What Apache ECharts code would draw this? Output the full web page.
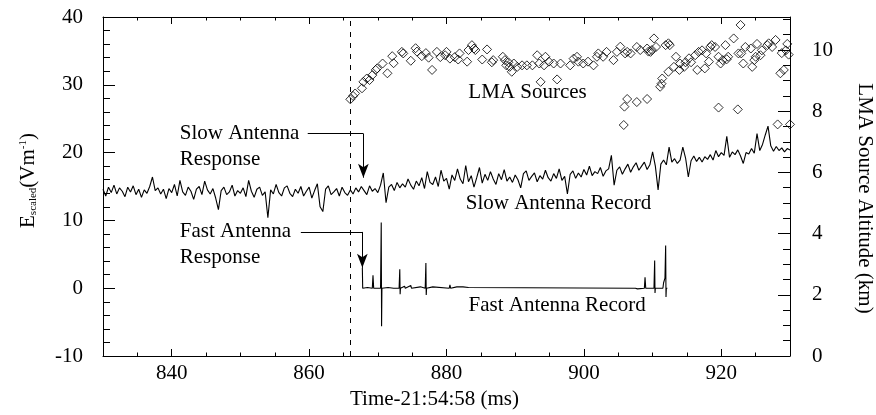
<!DOCTYPE html>
<html>
<head>
<meta charset="utf-8">
<script src="https://cdn.jsdelivr.net/npm/echarts@6/dist/echarts.min.js"></script>
<style>
  html, body { margin: 0; background: #fff; }
  #chart { width: 876px; height: 415px; }
</style>
</head>
<body>
<div id="chart"></div>
<script>
// slow antenna record, sampled every 0.4 ms from 830 ms
const slowStart = 830;
const slowStep = 0.4;
const slowValues = [
  14.6, 13.6, 14.9, 14.1, 15.2, 13.9, 14.8, 14.3, 13.5, 14.9,
  14.2, 15.1, 13.8, 14.6, 13.4, 14.5, 14.0, 15.0, 16.4, 14.4,
  14.8, 13.9, 14.6, 13.2, 14.7, 14.1, 15.3, 13.6, 15.9, 14.2,
  13.7, 14.9, 14.3, 13.1, 14.6, 15.0, 13.8, 15.8, 14.5, 13.9,
  14.7, 13.3, 11.6, 14.4, 14.9, 13.8, 14.2, 15.2, 13.6, 14.4,
  14.0, 14.8, 13.5, 15.9, 14.3, 13.4, 14.6, 14.9, 13.7, 14.2,
  10.4, 14.5, 13.9, 15.3, 14.1, 13.6, 14.8, 15.1, 14.0, 13.5,
  14.6, 14.0, 15.0, 13.6, 14.3, 14.9, 13.3, 14.4, 15.4, 12.0,
  11.3, 14.6, 15.1, 13.8, 14.2, 14.7, 13.6, 14.9, 14.1, 13.7,
  14.5, 13.9, 14.8, 14.2, 15.0, 14.4, 13.8, 15.1, 14.3, 14.7,
  14.1, 15.2, 17.0, 12.6, 14.9, 15.3, 14.4, 15.6, 14.8, 15.4,
  14.9, 16.1, 15.2, 14.6, 15.8, 15.1, 16.3, 14.7, 17.2, 15.6,
  15.3, 16.4, 15.0, 17.4, 15.8, 16.2, 14.6, 16.7, 15.9, 17.6,
  16.1, 15.4, 18.1, 15.7, 16.6, 14.9, 16.3, 17.8, 15.5, 16.8,
  15.9, 17.2, 16.1, 15.3, 16.9, 16.0, 17.5, 15.8, 16.4, 15.6,
  16.7, 16.0, 14.8, 16.9, 17.3, 15.9, 16.5, 17.0, 15.7, 16.6,
  16.1, 17.4, 16.3, 15.8, 16.9, 16.2, 17.6, 15.9, 16.5, 13.9,
  16.8, 17.3, 16.2, 17.0, 16.4, 17.5, 16.7, 18.0, 16.6, 17.2,
  16.9, 17.8, 16.5, 17.3, 17.6, 19.6, 15.2, 17.4, 17.9, 16.8,
  17.6, 18.3, 17.1, 17.9, 18.5, 17.4, 18.0, 18.6, 17.5, 18.2,
  20.1, 18.0, 14.5, 18.3, 18.9, 18.2, 20.8, 18.6, 19.1, 18.4,
  18.9, 20.8, 19.2, 16.4, 18.8, 19.5, 18.7, 19.3, 18.6, 19.4,
  19.0, 19.7, 18.9, 20.3, 19.4, 20.0, 19.6, 22.4, 19.3, 20.1,
  19.7, 20.4, 19.5, 18.4, 20.0, 19.8, 20.6, 19.9, 22.8, 20.3,
  21.2, 22.6, 23.9, 21.0, 20.2, 20.9, 20.3, 20.7, 20.1, 20.6,
  20.4
];

// fast antenna record (ms, scaled field)
const fastTime = [
  867.75, 867.8, 868.5, 869.2, 869.3, 869.4, 870.4, 870.5, 870.55, 870.6,
  871.5, 872.3, 873.1, 873.2, 873.25, 873.3, 873.9, 874.0, 874.8, 874.9,
  876.2, 876.3, 876.9, 877.0, 877.05, 877.1, 878.0, 878.1, 880.4, 880.5,
  880.6, 881.5, 881.6, 882.4, 882.5, 883.2, 883.3, 907.5, 907.8, 908.8,
  908.9, 909.0, 910.2, 910.3, 910.35, 910.4, 911.5, 911.6, 911.8, 911.9,
  911.95, 912.0, 912.15
];
const fastValue = [
  3.0, 0, 0.1, 0, 1.9, 0, 0, 9.7, -5.6, 0,
  0.1, 0, 0, 2.8, -0.9, 0, 0.3, 0, 0.4, 0,
  0.2, 0, 0, 3.7, -1.0, 0, 0.2, 0, 0, 0.5,
  0, 0.2, 0, 0.2, 0, 0.1, 0, 0, -0.1, 0,
  1.6, 0, 0, 4.1, -0.7, 0, 0, 0.8, 1.5, 6.3,
  -1.3, 0, 0
];

// LMA sources (ms, km)
const lmaTime = [
  866.0, 866.4, 866.7, 867.7, 867.9, 868.4, 868.8, 869.2, 869.7, 869.9,
  870.7, 871.4, 872.1, 872.3, 873.5, 873.7, 874.8, 875.5, 875.7, 876.4,
  877.0, 877.4, 877.9, 878.6, 879.1, 879.8, 880.0, 880.5, 881.2, 881.7,
  881.9, 883.0, 883.2, 883.7, 884.0, 884.2, 885.2, 885.9, 886.6, 886.8,
  888.2, 888.5, 888.7, 889.0, 889.2, 889.5, 889.8, 890.3, 891.0, 891.7,
  892.5, 893.2, 893.5, 893.7, 894.2, 894.4, 894.9, 895.6, 896.1, 896.6,
  898.0, 898.5, 899.0, 899.2, 899.9, 900.6, 901.4, 901.9, 902.1, 902.8,
  903.3, 904.3, 904.8, 905.3, 906.0, 906.3, 906.8, 907.7, 908.2, 909.2,
  909.4, 909.7, 909.9, 910.2, 910.5, 911.9, 912.3, 912.5,
  905.8, 905.9, 906.3, 907.7, 909.2, 911.1, 911.3, 911.4, 912.3, 913.1,
  913.4, 913.9, 914.0, 914.6, 914.8, 915.3, 915.6, 916.2, 916.5, 916.7,
  917.2, 917.6, 917.8, 918.2, 918.4, 918.6, 919.1, 919.6, 919.9, 920.2,
  920.6, 920.8, 921.0, 921.8, 922.8, 922.5, 923.2, 922.9, 923.5, 924.3,
  924.5, 925.0, 924.8, 925.2, 925.7, 925.9, 926.7, 926.9, 927.4, 927.9,
  928.8, 928.6, 929.1, 929.4, 929.6, 929.8,
  919.6, 922.4, 928.2, 930.0
];
const lmaAlt = [
  8.39, 8.50, 8.58, 8.75, 8.96, 9.07, 9.02, 9.18, 9.35, 9.40,
  9.56, 9.24, 9.80, 9.57, 9.94, 9.89, 9.65, 10.06, 9.95, 9.80,
  9.90, 9.75, 9.35, 9.94, 9.77, 9.83, 9.94, 9.72, 9.77, 9.69,
  9.89, 9.62, 10.00, 10.16, 10.05, 10.00, 9.69, 10.02, 9.60, 9.67,
  9.78, 9.67, 9.50, 9.60, 9.45, 9.29, 9.56, 9.45, 9.50, 9.50,
  9.50, 9.83, 9.56, 8.96, 9.50, 9.78, 9.62, 9.56, 9.04, 9.56,
  9.50, 9.72, 9.78, 9.62, 9.56, 9.62, 9.50, 9.78, 9.89, 9.78,
  9.94, 9.67, 9.94, 10.11, 9.89, 9.94, 9.89, 10.10, 10.00, 10.05,
  9.95, 9.94, 10.00, 10.38, 10.10, 10.16, 10.22, 10.16,
  7.55, 8.15, 8.40, 8.30, 8.40, 8.80, 8.90, 9.07, 9.29, 9.45,
  9.78, 9.35, 9.56, 9.45, 9.60, 9.73, 9.60, 9.83, 9.35, 9.94,
  9.99, 9.40, 9.89, 9.62, 10.10, 10.16, 10.10, 9.78, 9.56, 9.67,
  10.16, 9.70, 9.78, 10.38, 10.82, 9.89, 9.56, 9.89, 10.10, 10.05,
  9.45, 9.78, 9.67, 10.20, 9.83, 9.99, 10.16, 10.22, 10.10, 10.33,
  9.90, 9.24, 9.35, 9.99, 10.20, 9.85,
  8.12, 8.06, 7.57, 7.57
];

// tick positions (the frame has inward ticks on all four sides)
const xMajor = [840, 860, 880, 900, 920];
const xMinor = [835, 845, 850, 855, 865, 870, 875, 885, 890, 895, 905, 910, 915, 925];
const eMajor = [0, 10, 20, 30];
const eMinor = [-8, -6, -4, -2, 2, 4, 6, 8, 12, 14, 16, 18, 22, 24, 26, 28, 32, 34, 36, 38];
const altMajor = [2, 4, 6, 8, 10];
const altMinor = [0.5, 1, 1.5, 2.5, 3, 3.5, 4.5, 5, 5.5, 6.5, 7, 7.5, 8.5, 9, 9.5, 10.5, 11];

const onsetTime = 866;

// text annotations in data coordinates of the left axis
const notes = [
  { name: 'LMA Sources', coord: [891.8, 28.8], pos: 'inside' },
  { name: 'Slow Antenna\nResponse', coord: [841.1, 20.9], pos: 'right' },
  { name: 'Fast Antenna\nResponse', coord: [841.1, 6.4], pos: 'right' },
  { name: 'Slow Antenna Record', coord: [896.3, 12.5], pos: 'inside' },
  { name: 'Fast Antenna Record', coord: [896.1, -2.5], pos: 'inside' }
];

const FONT = "'Liberation Serif', 'Times New Roman', serif";
const INK = '#000';

const X_MIN = 830, X_MAX = 930, E_MIN = -10, E_MAX = 40, ALT_MAX = 11.08;
const PLOT_W = 876 - 103 - 86, PLOT_H = 415 - 17 - 59;
// data units per pixel, used to give the frame ticks a fixed pixel length
const msPx = (X_MAX - X_MIN) / PLOT_W;
const ePx = (E_MAX - E_MIN) / PLOT_H;

const seg = (a, b) => [{ coord: a }, { coord: b }];

const frameTicks = [].concat(
  eMajor.map(v => seg([X_MIN, v], [X_MIN + 12 * msPx, v])),
  eMinor.map(v => seg([X_MIN, v], [X_MIN + 7 * msPx, v])),
  xMajor.map(t => seg([t, E_MIN], [t, E_MIN + 7 * ePx])),
  xMinor.map(t => seg([t, E_MIN], [t, E_MIN + 3.5 * ePx])),
  xMajor.map(t => seg([t, E_MAX], [t, E_MAX - 7 * ePx])),
  xMinor.map(t => seg([t, E_MAX], [t, E_MAX - 3.5 * ePx]))
);
const altTicks = [].concat(
  altMajor.map(k => seg([X_MAX - 12 * msPx, k], [X_MAX, k])),
  altMinor.map(k => seg([X_MAX - 7 * msPx, k], [X_MAX, k]))
);

const chart = echarts.init(document.getElementById('chart'));

const labelStyle = { color: INK, fontFamily: FONT, fontSize: 21 };
const axisLine = () => ({ show: true, onZero: false, lineStyle: { color: INK, width: 1 } });
const noTick = { show: false };

chart.setOption({
  animation: false,
  backgroundColor: '#fff',
  grid: { left: 103, right: 86, top: 17, bottom: 59, outerBoundsMode: 'none' },
  xAxis: [
    {
      type: 'value', min: X_MIN, max: X_MAX, splitNumber: 5, position: 'bottom',
      axisLine: axisLine(), axisTick: noTick,
      axisLabel: Object.assign({ margin: 7, showMinLabel: false, showMaxLabel: false }, labelStyle),
      splitLine: { show: false },
      name: 'Time-21:54:58 (ms)',
      nameLocation: 'middle',
      nameGap: 31,
      nameTextStyle: Object.assign({ padding: [0, 24, 0, 0] }, labelStyle)
    },
    {
      type: 'value', min: X_MIN, max: X_MAX, position: 'top',
      axisLine: axisLine(), axisTick: noTick,
      axisLabel: { show: false },
      splitLine: { show: false }
    }
  ],
  yAxis: [
    {
      type: 'value', min: E_MIN, max: E_MAX, interval: 10, position: 'left',
      axisLine: axisLine(), axisTick: noTick,
      axisLabel: Object.assign({ margin: 20 }, labelStyle),
      splitLine: { show: false },
      name: '{a|E}{b|scaled}{a|(Vm}{c|-1}{a|)}',
      nameLocation: 'middle',
      nameRotate: 90,
      nameGap: 64,
      nameTextStyle: {
        color: INK, fontFamily: FONT, fontSize: 21,
        padding: [0, 0, 0, 12],
        rich: {
          a: { fontFamily: FONT, fontSize: 21, color: INK },
          b: { fontFamily: FONT, fontSize: 11, color: INK, verticalAlign: 'bottom' },
          c: { fontFamily: FONT, fontSize: 11, color: INK, verticalAlign: 'top' }
        }
      }
    },
    {
      type: 'value', min: 0, max: ALT_MAX, interval: 2, position: 'right',
      axisLine: axisLine(), axisTick: noTick,
      axisLabel: Object.assign({ margin: 22, showMaxLabel: false }, labelStyle),
      splitLine: { show: false },
      name: 'LMA Source Altitude (km)',
      nameLocation: 'middle',
      nameRotate: -90,
      nameGap: 64,
      nameTextStyle: Object.assign({ padding: [0, 0, 0, 24] }, labelStyle)
    }
  ],
  series: [
    {
      name: 'Slow Antenna Record',
      type: 'line',
      xAxisIndex: 0, yAxisIndex: 0,
      showSymbol: false,
      silent: true,
      lineStyle: { color: INK, width: 1.1 },
      data: slowValues.map((v, i) => [slowStart + i * slowStep, v])
    },
    {
      name: 'Fast Antenna Record',
      type: 'line',
      xAxisIndex: 0, yAxisIndex: 0,
      showSymbol: false,
      silent: true,
      lineStyle: { color: INK, width: 1.1 },
      data: fastTime.map((t, i) => [t, fastValue[i]])
    },
    {
      name: 'LMA Sources',
      type: 'scatter',
      xAxisIndex: 0, yAxisIndex: 1,
      symbol: 'diamond',
      symbolSize: 9,
      silent: true,
      itemStyle: { color: 'rgba(0,0,0,0)', borderColor: INK, borderWidth: 1 },
      data: lmaTime.map((t, i) => [t, lmaAlt[i]]),
      markLine: {
        silent: true,
        animation: false,
        symbol: 'none',
        label: { show: false },
        lineStyle: { color: INK, width: 1, type: 'solid' },
        data: altTicks
      }
    },
    {
      name: 'notes',
      type: 'line',
      xAxisIndex: 0, yAxisIndex: 0,
      data: [],
      markPoint: {
        silent: true,
        animation: false,
        symbol: 'circle',
        symbolSize: 1,
        itemStyle: { color: 'rgba(0,0,0,0)' },
        data: notes.map(n => ({
          name: n.name,
          coord: n.coord,
          label: {
            show: true,
            position: n.pos,
            distance: 0,
            formatter: '{b}',
            color: INK,
            fontFamily: FONT,
            fontSize: 21,
            lineHeight: 26
          }
        }))
      },
      markLine: {
        silent: true,
        animation: false,
        label: { show: false },
        lineStyle: { color: INK, width: 1, type: 'solid' },
        symbol: 'none',
        data: [
          { xAxis: onsetTime, lineStyle: { type: [5, 6], color: INK, width: 1 } },
          [{ coord: [859.8, 22.8], symbol: 'none' }, { coord: [867.9, 22.8], symbol: 'none' }],
          [{ coord: [867.9, 22.8], symbol: 'none' }, { coord: [867.9, 16.3], symbol: 'arrow', symbolSize: [8, 14] }],
          [{ coord: [858.8, 8.3], symbol: 'none' }, { coord: [867.75, 8.3], symbol: 'none' }],
          [{ coord: [867.75, 8.3], symbol: 'none' }, { coord: [867.75, 3.0], symbol: 'arrow', symbolSize: [8, 14] }]
        ].concat(frameTicks)
      }
    }
  ]
});
</script>
</body>
</html>
